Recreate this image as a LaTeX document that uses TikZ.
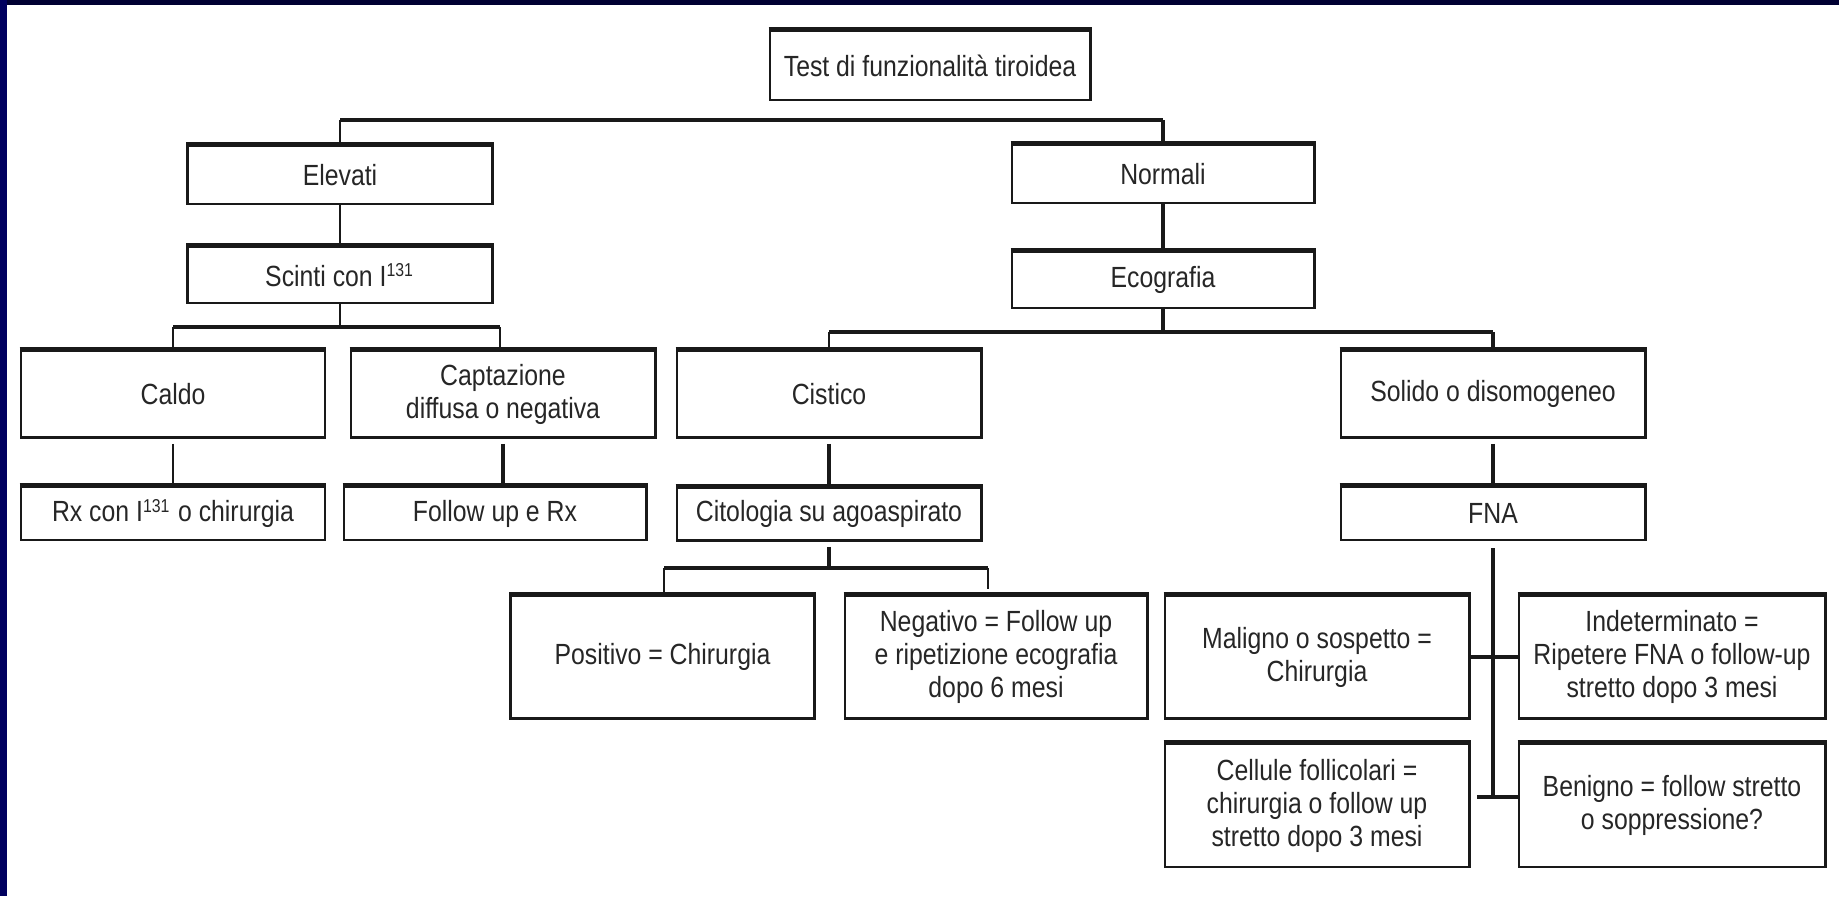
\documentclass[tikz,border=0pt]{standalone}
\usepackage{fontspec}
\setmainfont{Liberation Sans}[FakeStretch=0.85]
\usepackage{xcolor}
\definecolor{navytop}{RGB}{0,0,50}
\definecolor{navyleft}{RGB}{0,0,95}

\begin{document}
\begin{tikzpicture}[x=0.01cm,y=-0.01cm,
  box/.style={draw=black!90,line width=0.8pt,align=center,inner sep=0pt,
    minimum width=3.04cm,font=\fontsize{8.3}{9.4}\selectfont,text=black!85},
  thickline/.style={line width=0.95pt,black!90},
  thinline/.style={line width=0.45pt,black!90}]
  \useasboundingbox[fill=white](0,0) rectangle (1839,896);
  \fill[navytop](0,0) rectangle (1839,5);
  \fill[navyleft](0,0) rectangle (7,896);
  % boxes
  \node[box,minimum width=3.2cm,minimum height=0.69cm] at(930,65.5)(title){Test di funzionalità tiroidea};
  \node[box,minimum width=3.05cm,minimum height=0.58cm] at(340,175)(elev){Elevati};
  \node[box,minimum width=3.02cm,minimum height=0.58cm] at(1163,174)(norm){Normali};
  \node[box,minimum width=3.05cm,minimum height=0.56cm] at(340,275)(scinti){Scinti con I\textsuperscript{\fontsize{5.3}{6}\selectfont131}};
  \node[box,minimum width=3.02cm,minimum height=0.56cm] at(1163,280)(eco){Ecografia};
  \node[box,minimum height=0.87cm] at(173,394)(caldo){Caldo};
  \node[box,minimum height=0.87cm] at(503,394)(capt){Captazione\\diffusa o negativa};
  \node[box,minimum height=0.87cm] at(829,394)(cist){Cistico};
  \node[box,minimum height=0.87cm] at(1493,394)(solido){Solido o disomogeneo};
  \node[box,minimum height=0.53cm] at(173,513.5)(rx){Rx con I\textsuperscript{\fontsize{5.3}{6}\selectfont131} o chirurgia};
  \node[box,minimum width=3.02cm,minimum height=0.53cm] at(495,513.5)(fol){Follow up e Rx};
  \node[box,minimum height=0.53cm] at(829,514)(cito){Citologia su agoaspirato};
  \node[box,minimum height=0.53cm] at(1493,513.5)(fna){FNA};
  \node[box,minimum height=1.23cm] at(662.5,657)(pos){Positivo = Chirurgia};
  \node[box,minimum width=3.02cm,minimum height=1.23cm] at(996,657)(neg){Negativo = Follow up\\e ripetizione ecografia\\dopo 6 mesi};
  \node[box,minimum height=1.23cm] at(1317,657)(mal){Maligno o sospetto =\\Chirurgia};
  \node[box,minimum width=3.06cm,minimum height=1.23cm] at(1672,657)(ind){Indeterminato =\\Ripetere FNA o follow-up\\stretto dopo 3 mesi};
  \node[box,minimum height=1.23cm] at(1317,805.5)(cell){Cellule follicolari =\\chirurgia o follow up\\stretto dopo 3 mesi};
  \node[box,minimum width=3.06cm,minimum height=1.23cm] at(1672,805.5)(ben){Benigno = follow stretto\\o soppressione?};
  \foreach \n in {title,elev,norm,scinti,eco,caldo,capt,cist,solido,rx,fol,cito,fna,pos,neg,mal,ind,cell,ben}
    \draw[line width=1.2pt,black!90](\n.north west) -- (\n.north east);
  % first split
  \coordinate (t1) at (340,120);
  \coordinate (t2) at (1163,120);
  \draw[thickline](t1) -- (t2);
  \draw[thinline](t1) -- (elev.north);
  \draw[thickline](t2) -- (norm.north);
  \draw[thinline](elev.south) -- (scinti.north);
  \draw[thickline](norm.south) -- (eco.north);
  % scintigrafia
  \coordinate (s1) at (173,327);
  \coordinate (s2) at (500,327);
  \draw[thinline](scinti.south) -- (scinti.south |- s1);
  \draw[thickline](s1) -- (s2);
  \draw[thinline](s1) -- (caldo.north);
  \draw[thinline](s2) -- (s2 |- capt.north);
  % ecografia
  \coordinate (e1) at (829,332);
  \coordinate (e2) at (1493,332);
  \draw[thickline](eco.south) -- (eco.south |- e1);
  \draw[thickline](e1) -- (e2);
  \draw[thinline](e1) -- (cist.north);
  \draw[thickline](e2) -- (solido.north);
  % third row
  \draw[thinline]([yshift=-0.05cm]caldo.south) -- (rx.north);
  \draw[thickline]([yshift=-0.05cm]capt.south) -- (capt.south |- fol.north);
  \draw[thickline]([yshift=-0.05cm]cist.south) -- (cito.north);
  \draw[thickline]([yshift=-0.05cm]solido.south) -- (fna.north);
  % citologia
  \coordinate (c1) at (664,568);
  \coordinate (c2) at (988,568);
  \draw[thickline]([yshift=-0.05cm]cito.south) -- (cito.south |- c1);
  \draw[thickline](c1) -- (c2);
  \draw[thinline](c1) -- (c1 |- pos.north);
  \draw[thinline](c2) -- ([yshift=0.05cm]c2 |- neg.north);
  % FNA
  \coordinate (f1) at (1493,797);
  \draw[thickline]([yshift=-0.07cm]fna.south) -- (f1);
  \draw[thickline](mal.east) -- (ind.west);
  \draw[thickline]([xshift=-0.16cm]f1) -- (f1 -| ben.west);
\end{tikzpicture}
\end{document}
